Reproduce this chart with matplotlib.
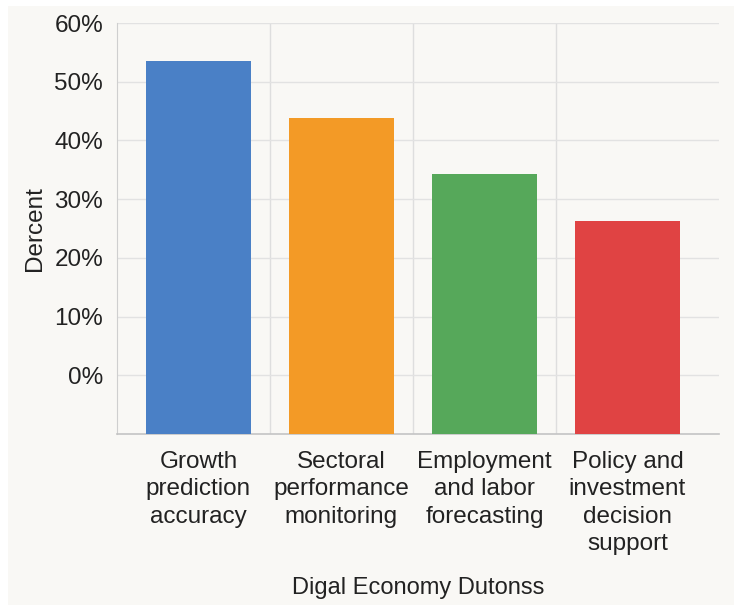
import matplotlib.pyplot as plt
from matplotlib.patches import Rectangle
from matplotlib.ticker import FuncFormatter, FixedLocator

# Data (percent)
categories = ['Growth\nprediction\naccuracy', 'Sectoral\nperformance\nmonitoring',
              'Employment\nand labor\nforecasting', 'Policy and\ninvestment\ndecision\nsupport']
values = [53.6, 43.9, 34.3, 26.2]
colors = ['#4a80c6', '#f39a26', '#56a85a', '#e04343']
y_ticks = [0, 10, 20, 30, 40, 50, 60]
base = -10

plt.rcParams['font.family'] = ['Liberation Sans', 'DejaVu Sans']
bg = '#f9f8f5'
text_color = '#222222'

fig = plt.figure(figsize=(7.34, 6.05), dpi=100, facecolor='white')
# off-white panel with a thin white margin at top and left
fig.patches.append(Rectangle((8 / 734, 0), 1, 1 - 6 / 605, transform=fig.transFigure,
                             facecolor=bg, edgecolor='none', zorder=-10))

ax = fig.add_axes([117 / 734, 1 - 434 / 605, 602 / 734, 411 / 605])
ax.set_facecolor(bg)

x = list(range(len(categories)))
ax.bar(x, [v - base for v in values], bottom=base, width=0.73, color=colors, zorder=3)

ax.set_xlim(-0.57, 3.64)
ax.set_ylim(base, 60)

ax.set_yticks(y_ticks)
ax.yaxis.set_major_formatter(FuncFormatter(lambda v, p: f'{v:.0f}%'))
ax.set_xticks(x)
ax.set_xticklabels(categories, linespacing=1.3)
ax.xaxis.set_minor_locator(FixedLocator([0.5, 1.5, 2.5]))

ax.tick_params(axis='y', length=0, pad=10, labelsize=17.5, labelcolor=text_color)
ax.tick_params(axis='x', which='both', length=0, pad=12.5, labelsize=17.5, labelcolor=text_color)

ax.grid(axis='y', color='#e2e2e2', linewidth=1, zorder=0)
ax.grid(axis='x', which='minor', color='#dedede', linewidth=1, zorder=0)

for s in ['top', 'right']:
    ax.spines[s].set_visible(False)
ax.spines['left'].set_color('#cfcfcf')
ax.spines['bottom'].set_color('#c4c4c4')
ax.spines['bottom'].set_linewidth(1.2)

ax.set_ylabel('Dercent', fontsize=17.5, color=text_color, labelpad=6)
ax.set_xlabel('Digal Economy Dutonss', fontsize=17, color=text_color, labelpad=16)

fig.savefig('out.png', dpi=100, facecolor=fig.get_facecolor())
